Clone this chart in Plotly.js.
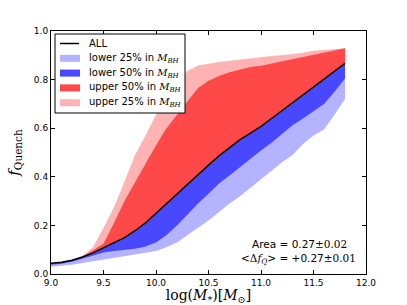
<!DOCTYPE html>
<html>
<head>
<meta charset="utf-8">
<script src="https://cdn.plot.ly/plotly-3.0.1.min.js"></script>
<style>html,body{margin:0;padding:0;background:#fff;}#chart{width:407px;height:305px;}</style>
</head>
<body>
<div id="chart"></div>
<script>
// log stellar mass grid
const mass = [9.0, 9.1, 9.2, 9.3, 9.4, 9.5, 9.6, 9.7, 9.8, 9.9, 10.0, 10.1, 10.2, 10.3, 10.4, 10.5, 10.6, 10.7, 10.8, 10.9, 11.0, 11.1, 11.2, 11.3, 11.4, 11.5, 11.6, 11.7, 11.8];
// quenched fraction, all galaxies
const fAll = [0.044, 0.048, 0.057, 0.070, 0.087, 0.108, 0.132, 0.150, 0.178, 0.210, 0.250, 0.290, 0.332, 0.372, 0.412, 0.448, 0.486, 0.521, 0.553, 0.580, 0.608, 0.640, 0.672, 0.705, 0.737, 0.768, 0.800, 0.835, 0.867];
// lower 25% in M_BH
const fLower25 = [0.030, 0.033, 0.038, 0.045, 0.052, 0.060, 0.068, 0.075, 0.080, 0.086, 0.095, 0.110, 0.130, 0.160, 0.190, 0.220, 0.255, 0.290, 0.320, 0.355, 0.390, 0.425, 0.460, 0.490, 0.535, 0.570, 0.595, 0.655, 0.720];
// lower 50% in M_BH
const fLower50 = [0.038, 0.042, 0.050, 0.062, 0.075, 0.088, 0.095, 0.100, 0.104, 0.113, 0.130, 0.160, 0.200, 0.245, 0.290, 0.330, 0.372, 0.405, 0.440, 0.475, 0.508, 0.540, 0.578, 0.612, 0.640, 0.670, 0.700, 0.750, 0.805];
// upper 50% in M_BH
const fUpper50 = [0.044, 0.048, 0.058, 0.072, 0.098, 0.125, 0.210, 0.300, 0.375, 0.455, 0.530, 0.600, 0.655, 0.710, 0.765, 0.795, 0.815, 0.830, 0.842, 0.852, 0.857, 0.865, 0.875, 0.884, 0.893, 0.903, 0.910, 0.920, 0.929];
// upper 25% in M_BH
const fUpper25 = [0.044, 0.048, 0.058, 0.075, 0.110, 0.190, 0.275, 0.380, 0.490, 0.570, 0.655, 0.730, 0.785, 0.835, 0.858, 0.866, 0.872, 0.878, 0.884, 0.889, 0.893, 0.897, 0.900, 0.904, 0.910, 0.919, 0.922, 0.925, 0.929];

const xTicks = [9.0, 9.5, 10.0, 10.5, 11.0, 11.5, 12.0];
const yTicks = [0.0, 0.2, 0.4, 0.6, 0.8, 1.0];

const serif = '"DejaVu Serif", "Liberation Serif", serif';
const sans = '"DejaVu Sans", sans-serif';
const mbh = '<span style="font-family:DejaVu Serif"><i>M</i><sub><i>BH</i></sub></span>';

const colAll = '#000000', colL25 = '#b3b3ff', colL50 = '#4848ff', colU50 = '#ff4848', colU25 = '#ffb3b3';

function band(lo, hi, color, name) {
  return {
    x: mass.concat(mass.slice().reverse()),
    y: lo.concat(hi.slice().reverse()),
    type: 'scatter', mode: 'lines', fill: 'toself',
    fillcolor: color, line: {width: 0, color: color},
    name: name, hoverinfo: 'skip', showlegend: false
  };
}

const traces = [
  band(fAll, fUpper25, colU25, 'upper 25% in M_BH'),
  band(fAll, fUpper50, colU50, 'upper 50% in M_BH'),
  band(fLower25, fAll, colL25, 'lower 25% in M_BH'),
  band(fLower50, fAll, colL50, 'lower 50% in M_BH'),
  {x: mass, y: fAll, type: 'scatter', mode: 'lines', line: {color: colAll, width: 1.5}, name: 'ALL', showlegend: false}
];

// legend (drawn in paper coordinates, matplotlib-style compact layout)
const plotL = 51, plotT = 31, plotW = 315, plotH = 243;
const px = p => (p - plotL) / plotW;
const py = p => 1 - (p - plotT) / plotH;
const legendItems = [
  {label: 'ALL', color: colAll, kind: 'line'},
  {label: 'lower 25% in ' + mbh, color: colL25, kind: 'box'},
  {label: 'lower 50% in ' + mbh, color: colL50, kind: 'box'},
  {label: 'upper 50% in ' + mbh, color: colU50, kind: 'box'},
  {label: 'upper 25% in ' + mbh, color: colU25, kind: 'box'}
];
const shapes = [{type: 'rect', xref: 'paper', yref: 'paper', x0: px(55), x1: px(185), y0: py(113), y1: py(34),
  fillcolor: '#ffffff', line: {color: '#000', width: 1}, layer: 'above'}];
const annotations = [];
legendItems.forEach((it, i) => {
  const cy = 43.5 + i * 14.8;
  if (it.kind === 'line') {
    shapes.push({type: 'line', xref: 'paper', yref: 'paper', x0: px(60), x1: px(79), y0: py(cy), y1: py(cy),
      line: {color: it.color, width: 1.5}, layer: 'above'});
  } else {
    shapes.push({type: 'rect', xref: 'paper', yref: 'paper', x0: px(60), x1: px(80), y0: py(cy + 3.5), y1: py(cy - 3.5),
      fillcolor: it.color, line: {width: 0}, layer: 'above'});
  }
  annotations.push({xref: 'paper', yref: 'paper', x: px(87), y: py(cy), xanchor: 'left', yanchor: 'middle',
    showarrow: false, text: it.label, font: {family: sans, size: 10, color: '#000'}});
});

annotations.push(
  {xref: 'paper', yref: 'paper', x: px(349), y: py(244), xanchor: 'right', yanchor: 'middle', showarrow: false,
   text: 'Area = 0.27<span style="font-family:DejaVu Serif">±0.02</span>', font: {family: sans, size: 10.5, color: '#000'}},
  {xref: 'paper', yref: 'paper', x: px(358), y: py(259), xanchor: 'right', yanchor: 'middle', showarrow: false,
   text: '<span style="font-family:DejaVu Serif">&lt;Δ<i>f</i><sub><i>Q</i></sub>&gt;</span> = +0.27<span style="font-family:DejaVu Serif">±0.01</span>', font: {family: sans, size: 10.5, color: '#000'}}
);

const axisCommon = {
  showgrid: false, zeroline: false, showline: true, linecolor: '#000', linewidth: 1,
  mirror: 'ticks', ticks: 'inside', ticklen: 4, tickcolor: '#000',
  tickfont: {family: sans, size: 9, color: '#000'}
};

const layout = {
  width: 407, height: 305,
  margin: {l: 51, r: 41, t: 31, b: 31},
  paper_bgcolor: '#fff', plot_bgcolor: '#fff',
  showlegend: false,
  xaxis: Object.assign({}, axisCommon, {
    range: [9.0, 12.0], tickvals: xTicks, ticktext: xTicks.map(v => v.toFixed(1)),
    title: {text: 'log(<i>M</i><sub>*</sub>)[<i>M</i><sub>⊙</sub>]', font: {family: serif, size: 14, color: '#000'}, standoff: 6}
  }),
  yaxis: Object.assign({}, axisCommon, {
    range: [0, 1.0], tickvals: yTicks, ticktext: yTicks.map(v => v.toFixed(1)),
    title: {text: '<i>f</i><sub>Quench</sub>', font: {family: serif, size: 15, color: '#000'}, standoff: 10}
  }),
  shapes: shapes,
  annotations: annotations
};

Plotly.newPlot('chart', traces, layout, {displayModeBar: false, staticPlot: true});
</script>
</body>
</html>
